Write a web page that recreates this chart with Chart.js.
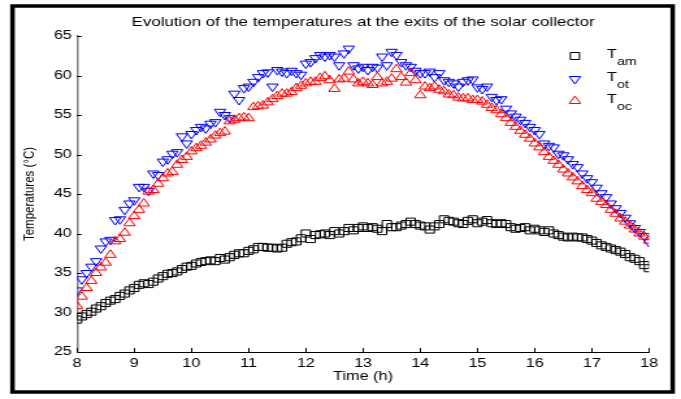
<!DOCTYPE html>
<html>
<head>
<meta charset="utf-8">
<script src="https://cdn.jsdelivr.net/npm/chart.js@4"></script>
<style>
  html, body { margin: 0; padding: 0; background: #fff; overflow: hidden; }
  /* the original picture is stretched sideways, so the whole chart is drawn narrow and widened */
  #wrap { width: 524px; height: 399px; transform: scaleX(1.2996); transform-origin: 0 0; }
</style>
</head>
<body>
<div id="wrap"><canvas id="tempChart" width="524" height="399"></canvas></div>
<script>
// sample times, minutes after 8:00
const minutes = [
  0, 5, 10, 15, 20, 25, 30, 35, 40, 45, 50, 55,
  60, 65, 70, 75, 80, 85, 90, 95, 100, 105, 110, 115,
  120, 125, 130, 135, 140, 145, 150, 155, 160, 165, 170, 175,
  180, 185, 190, 195, 200, 205, 210, 215, 220, 225, 230, 235,
  240, 245, 250, 255, 260, 265, 270, 275, 280, 285, 290, 295,
  300, 305, 310, 315, 320, 325, 330, 335, 340, 345, 350, 355,
  360, 365, 370, 375, 380, 385, 390, 395, 400, 405, 410, 415,
  420, 425, 430, 435, 440, 445, 450, 455, 460, 465, 470, 475,
  480, 485, 490, 495, 500, 505, 510, 515, 520, 525, 530, 535,
  540, 545, 550, 555, 560, 565, 570, 575, 580, 585, 590, 595,
  600
];

// ambient temperature (°C)
const tAm = [
  29.1, 29.5, 29.8, 30.1, 30.5, 30.8, 31.2, 31.5, 31.7, 32.1, 32.4, 32.8,
  33.1, 33.5, 33.7, 33.6, 33.9, 34.3, 34.6, 34.9, 35.0, 35.2, 35.5, 35.8,
  35.9, 36.2, 36.4, 36.5, 36.6, 36.5, 36.9, 36.7, 37.0, 37.3, 37.5, 37.5,
  37.8, 38.0, 38.3, 38.3, 38.2, 38.2, 38.1, 38.2, 38.7, 38.9, 39.0, 39.4,
  40.0, 39.3, 39.8, 39.9, 40.0, 39.8, 40.3, 40.0, 40.3, 40.7, 40.4, 40.7,
  40.9, 40.7, 40.8, 40.6, 40.3, 41.2, 40.8, 40.8, 41.0, 41.2, 41.5, 41.2,
  41.0, 40.9, 40.5, 40.9, 41.2, 41.8, 41.6, 41.5, 41.3, 41.2, 41.6, 41.8,
  41.3, 41.5, 41.7, 41.3, 41.2, 41.3, 41.2, 40.8, 40.6, 40.7, 40.8, 40.4,
  40.6, 40.4, 40.2, 40.4, 40.0, 39.8, 39.6, 39.5, 39.6, 39.5, 39.5, 39.3,
  39.1, 38.8, 38.5, 38.3, 38.1, 37.9, 37.7, 37.4, 37.0, 36.8, 36.5, 36.0,
  35.6
];

// outlet temperature, thermal collector (°C)
const tOt = [
  32.8, 34.2, 35.0, 35.8, 36.5, 38.1, 39.0, 39.2, 41.7, 41.8, 43.0, 43.8,
  44.2, 45.9, 45.9, 45.4, 47.6, 47.4, 49.1, 49.4, 50.1, 50.3, 52.3, 51.4,
  52.6, 53.1, 53.5, 53.3, 53.9, 54.1, 55.4, 55.0, 54.6, 57.7, 56.9, 58.4,
  58.6, 59.2, 59.8, 60.3, 60.4, 58.6, 60.7, 60.5, 60.3, 60.6, 60.3, 60.1,
  61.5, 61.7, 62.2, 62.6, 62.4, 62.6, 62.4, 61.3, 62.8, 63.4, 61.3, 60.9,
  61.1, 60.7, 61.1, 61.0, 62.4, 61.3, 63.0, 62.6, 61.7, 61.3, 61.1, 60.6,
  60.3, 60.3, 60.5, 59.8, 60.3, 59.4, 59.2, 59.0, 58.6, 59.2, 59.4, 59.5,
  58.5, 58.3, 58.6, 57.3, 56.9, 57.0, 55.8, 55.2, 54.8, 54.4, 54.0, 53.5,
  53.1, 52.6, 51.4, 51.1, 50.9, 50.1, 49.9, 49.4, 48.8, 48.4, 47.6, 47.0,
  46.5, 45.8, 45.1, 44.6, 43.8, 43.2, 42.6, 42.0, 41.3, 40.7, 40.2, 39.7,
  38.9
];

// outlet temperature, concentrating collector (°C)
const tOc = [
  30.8, 32.0, 33.1, 34.0, 35.0, 35.7, 36.3, 37.3, 39.0, 39.3, 40.1, 41.3,
  42.2, 43.0, 43.8, 45.3, 45.5, 46.3, 47.0, 47.6, 47.8, 48.7, 49.3, 49.7,
  50.4, 50.8, 51.1, 51.5, 51.9, 52.4, 52.7, 52.9, 54.2, 54.4, 54.6, 54.7,
  54.6, 56.0, 56.1, 56.2, 56.6, 57.0, 57.4, 57.7, 57.7, 57.9, 58.4, 58.7,
  59.0, 59.2, 59.2, 59.7, 59.9, 59.4, 58.3, 59.5, 59.6, 60.5, 59.5, 59.0,
  59.2, 59.0, 58.8, 59.8, 59.0, 59.2, 59.6, 60.8, 59.8, 59.1, 60.3, 59.4,
  57.5, 58.6, 58.4, 58.6, 58.2, 58.0, 57.6, 57.5, 57.2, 57.1, 57.1, 56.9,
  56.9, 56.7, 56.3, 55.9, 55.6, 55.1, 54.6, 54.0, 53.5, 53.0, 52.5, 52.0,
  51.4, 50.9, 50.3, 49.7, 49.2, 48.7, 48.1, 47.6, 47.1, 46.6, 46.0, 45.5,
  45.1, 44.4, 44.0, 43.6, 43.0, 42.5, 41.9, 41.5, 41.0, 40.5, 40.0, 39.6,
  39.1
];

const xTicks = [8, 9, 10, 11, 12, 13, 14, 15, 16, 17, 18];
const yTicks = [25, 30, 35, 40, 45, 50, 55, 60, 65];

// legend entries: main letter + subscript
const legendItems = [
  { main: 'T', sub: 'am', style: 'rect', rotation: 0, color: '#000000' },
  { main: 'T', sub: 'ot', style: 'triangle', rotation: 180, color: '#0000ff' },
  { main: 'T', sub: 'oc', style: 'triangle', rotation: 0, color: '#ff0000' }
];

const FONT = '"Liberation Sans", Arial, sans-serif';
// plot box in canvas pixels (canvas is 524 wide before stretching)
const AREA = { left: 59.3, right: 499.4, top: 36, bottom: 352 };

function toPoints(values) {
  return values.map((v, i) => ({ x: 8 + minutes[i] / 60, y: v }));
}

// frame, title, legend and the inward tick marks
const decorations = {
  id: 'decorations',
  beforeDraw(chart) {
    const ctx = chart.ctx;
    ctx.save();
    ctx.fillStyle = '#fff';
    ctx.fillRect(0, 0, chart.width, chart.height);
    ctx.restore();
  },
  afterDraw(chart) {
    const { ctx, chartArea, scales: { x, y } } = chart;
    ctx.save();

    // outer frame
    ctx.strokeStyle = '#000';
    ctx.lineWidth = 3.5;
    ctx.strokeRect(9.6, 6, 508, 386);

    // ticks pointing into the plot
    ctx.lineWidth = 1;
    ctx.beginPath();
    x.ticks.forEach(t => {
      const px = Math.round(x.getPixelForValue(t.value)) + 0.5;
      ctx.moveTo(px, x.top);
      ctx.lineTo(px, x.top - 4);
    });
    y.ticks.forEach(t => {
      const py = Math.round(y.getPixelForValue(t.value)) + 0.5;
      ctx.moveTo(y.right, py);
      ctx.lineTo(y.right + 3.5, py);
    });
    ctx.stroke();

    // title
    ctx.fillStyle = '#000';
    ctx.font = '13px ' + FONT;
    ctx.textAlign = 'center';
    ctx.textBaseline = 'alphabetic';
    ctx.fillText('Evolution of the temperatures at the exits of the solar collector',
      (chartArea.left + chartArea.right) / 2, 26);

    // legend
    const rows = [56, 79, 101];
    legendItems.forEach((item, i) => {
      const my = rows[i];
      ctx.strokeStyle = item.color;
      ctx.lineWidth = 1;
      ctx.beginPath();
      if (item.style === 'rect') {
        ctx.rect(442.4 - 3.5, my - 3.5, 7, 7);
      } else {
        const r = 5;
        const rad = item.rotation * Math.PI / 180;
        for (let k = 0; k < 3; k++) {
          const a = rad + k * 2 * Math.PI / 3;
          const px = 442.4 + Math.sin(a) * r;
          const py = my - Math.cos(a) * r;
          if (k === 0) ctx.moveTo(px, py); else ctx.lineTo(px, py);
        }
        ctx.closePath();
      }
      ctx.stroke();

      ctx.textAlign = 'left';
      ctx.fillStyle = '#000';
      ctx.font = '12.5px ' + FONT;
      ctx.fillText(item.main, 467, my + 2);
      const w = ctx.measureText(item.main).width;
      ctx.font = '11px ' + FONT;
      ctx.fillText(item.sub, 467 + w, my + 8.5);
    });

    ctx.restore();
  }
};

const ctx = document.getElementById('tempChart');

new Chart(ctx, {
  type: 'scatter',
  data: {
    datasets: [
      {
        label: 'Tam',
        data: toPoints(tAm),
        pointStyle: 'rect',
        pointRadius: 5,
        pointBorderWidth: 1,
        borderColor: '#000000',
        backgroundColor: 'rgba(0,0,0,0)',
        order: 2
      },
      {
        label: 'Tot',
        data: toPoints(tOt),
        pointStyle: 'triangle',
        rotation: 180,
        pointRadius: 5,
        pointBorderWidth: 1,
        borderColor: '#0000ff',
        backgroundColor: 'rgba(0,0,0,0)',
        order: 1
      },
      {
        label: 'Toc',
        data: toPoints(tOc),
        pointStyle: 'triangle',
        pointRadius: 5,
        pointBorderWidth: 1,
        borderColor: '#ff0000',
        backgroundColor: 'rgba(0,0,0,0)',
        order: 0
      }
    ]
  },
  options: {
    responsive: false,
    animation: false,
    devicePixelRatio: 1,
    layout: {
      padding: { left: 0, top: AREA.top, right: 524 - AREA.right, bottom: 0 }
    },
    plugins: {
      legend: { display: false },
      title: { display: false },
      tooltip: { enabled: false }
    },
    scales: {
      x: {
        type: 'linear',
        min: 8,
        max: 18,
        afterBuildTicks: axis => { axis.ticks = xTicks.map(v => ({ value: v })); },
        afterFit: scale => { scale.height = 399 - AREA.bottom; },
        grid: { display: false, drawTicks: false },
        border: { color: '#000', width: 1 },
        ticks: { color: '#000', padding: 4, maxRotation: 0, font: { family: FONT, size: 12.5 } },
        title: {
          display: true,
          text: 'Time (h)',
          color: '#000',
          font: { family: FONT, size: 12.5 },
          padding: { top: 0, bottom: 14.8 }
        }
      },
      y: {
        min: 25,
        max: 65,
        afterBuildTicks: axis => { axis.ticks = yTicks.map(v => ({ value: v })); },
        afterFit: scale => { scale.width = AREA.left; },
        grid: { display: false, drawTicks: false },
        border: { color: '#808080', width: 1.5 },
        ticks: { color: '#000', padding: 4, font: { family: FONT, size: 12.5 } },
        title: {
          display: true,
          text: 'Temperatures (°C)',
          color: '#000',
          font: { family: FONT, size: 11.5 },
          padding: { top: 16, bottom: 0 }
        }
      }
    }
  },
  plugins: [decorations]
});
</script>
</body>
</html>
